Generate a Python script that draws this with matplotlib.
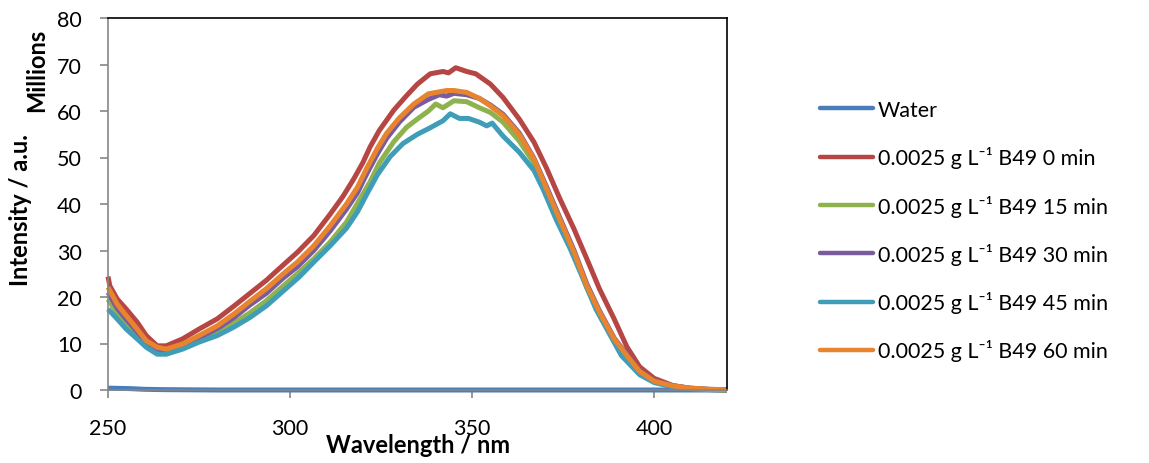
import matplotlib
matplotlib.use("Agg")
import matplotlib.pyplot as plt

plt.rcParams['font.family'] = ['Lato', 'DejaVu Sans']

# wavelength (nm) / intensity (millions)
water_x = [250, 253, 256, 260, 265, 270, 280, 300, 350, 400, 420]
water_y = [0.4, 0.35, 0.3, 0.15, 0.08, 0.05, 0.0, 0.0, 0.0, 0.0, 0.0]

red_x = [250, 250.5, 252.5, 255, 258, 260.5, 263.5, 266, 270.5, 275, 280, 284.5, 289, 293.5, 298, 302,
         306.5, 311, 314.5, 317.5, 320, 322, 324.5, 328.5, 332, 335, 338.5, 342, 343.5, 345.5, 348.5, 351,
         355, 358.5, 363, 367, 370.5, 374, 378, 381.5, 385, 389, 392.5, 396, 400, 405, 410, 415, 420]
red_y = [24.4, 22.4, 19.6, 17.4, 14.6, 11.7, 9.5, 9.5, 11, 13.1, 15.3, 18, 20.8, 23.6, 26.8, 29.6,
         33.2, 37.8, 41.6, 45.4, 48.9, 52.3, 55.8, 60.2, 63.3, 65.8, 68, 68.5, 68.2, 69.3, 68.5, 68,
         65.8, 62.9, 58.2, 53.3, 47.6, 41.3, 34.6, 28.2, 21.7, 15.3, 9.3, 5.0, 2.5, 1.0, 0.3, 0.1, 0.0]

green_x = [250, 252.5, 255, 258, 260.5, 263.5, 266, 270.5, 275, 280, 284.5, 289, 293.5, 298, 302, 306.5,
           311, 315.5, 319, 322, 324.5, 328.5, 332, 335, 338, 340, 342, 345, 348.5, 352, 355, 358.5, 363,
           367, 370.5, 374, 378, 381.5, 385, 389, 392.5, 396, 400, 405, 410, 415, 420]
green_y = [19.5, 16.5, 14, 11.8, 9.8, 8.2, 8.0, 9.1, 10.7, 12.3, 14.3, 16.6, 19.2, 22.3, 25.0, 28.2,
           31.8, 36.1, 40.8, 44.8, 48.8, 53.4, 56.5, 58.3, 60, 61.5, 60.7, 62.2, 62, 60.7, 59.7, 57.6, 53.5,
           48.8, 42.7, 36.3, 29.1, 22, 16.2, 10.6, 7.0, 3.7, 1.8, 0.8, 0.3, 0.1, 0.0]

purple_x = [250, 252.5, 255, 258, 260.5, 263.5, 266, 270.5, 275, 280, 284.5, 289, 293.5, 298, 302, 306.5,
            311, 315.5, 318.5, 321, 324, 326.5, 330, 334, 338, 341, 343, 345, 348.5, 352, 355, 358.5, 363,
            367, 370.5, 374, 378, 381.5, 385, 389, 392.5, 396, 400, 405, 410, 415, 420]
purple_y = [21, 17.6, 15.2, 12.5, 10.2, 8.8, 8.4, 9.5, 11.2, 13.2, 15.5, 18.3, 20.8, 24, 26.5, 30,
            34.2, 38.9, 42.4, 46.4, 50.8, 54.1, 57.6, 60.8, 62.5, 63.5, 63.2, 63.8, 63.5, 62.7, 61.3, 59.3, 55.2,
            49.8, 43.6, 37.2, 30, 22.8, 17, 11.2, 7.6, 4.1, 2.0, 0.9, 0.4, 0.15, 0.05]

teal_x = [250, 252.5, 255, 258, 260.5, 263.5, 266, 270.5, 275, 280, 284.5, 289, 293.5, 298, 302.5, 306.5,
          311, 315.5, 318.5, 321, 324, 327.5, 331, 335, 338.5, 342, 344, 346.5, 349, 352, 354, 355.5, 358.5,
          363, 367, 369.5, 373, 377, 380.5, 384, 388, 391, 396, 400, 405, 410, 415, 420]
teal_y = [17.4, 15.3, 13.1, 11, 9.2, 7.7, 7.7, 8.8, 10.3, 11.7, 13.5, 15.6, 18.1, 21.2, 24.3, 27.5,
          31, 34.8, 38.3, 42, 46.3, 50.2, 53, 55.0, 56.4, 57.9, 59.4, 58.4, 58.4, 57.6, 56.8, 57.4, 54.6,
          51.1, 47.2, 43.2, 36.8, 30.3, 23.9, 17.4, 11.7, 7.4, 3.3, 1.6, 0.7, 0.3, 0.1, 0.0]

orange_x = [250, 252.5, 255, 258, 260.5, 263.5, 266, 270.5, 275, 280, 284.5, 289, 293.5, 298, 302, 306.5,
            311, 315.5, 318.5, 321, 324, 326.5, 330, 334, 338, 343, 345, 348.5, 352, 355, 358.5, 363, 367,
            370.5, 374, 378, 381.5, 385, 389, 392.5, 396, 400, 405, 410, 415, 420]
orange_y = [22.1, 18.5, 16, 13.1, 10.6, 9.2, 8.8, 9.9, 11.7, 13.8, 16.3, 19.1, 21.8, 24.9, 27.5, 31,
            35.3, 40.0, 43.6, 47.6, 52.0, 55.2, 58.5, 61.5, 63.7, 64.4, 64.4, 64, 62.7, 61.1, 59, 54.9, 49.6,
            43.2, 36.8, 29.6, 22.4, 16.7, 11, 7.4, 4.0, 1.9, 0.9, 0.4, 0.15, 0.05]

labels = ['Water',
          '0.0025 g L\u207b\u00b9 B49 0 min',
          '0.0025 g L\u207b\u00b9 B49 15 min',
          '0.0025 g L\u207b\u00b9 B49 30 min',
          '0.0025 g L\u207b\u00b9 B49 45 min',
          '0.0025 g L\u207b\u00b9 B49 60 min']
colors = ['#4A7EBB', '#B54643', '#8DB24E', '#7A5C9E', '#3F9DB8', '#E8832E']
series = [(water_x, water_y), (red_x, red_y), (green_x, green_y),
          (purple_x, purple_y), (teal_x, teal_y), (orange_x, orange_y)]

fig = plt.figure(figsize=(11.49, 4.64), dpi=100)
ax = fig.add_axes([108 / 1149, 1 - 391 / 464, (727 - 108) / 1149, (391 - 19) / 464])

for (xs, ys), c, lab in zip(series, colors, labels):
    ax.plot(xs, ys, color=c, lw=3.6, label=lab, solid_joinstyle='round',
            solid_capstyle='butt', clip_on=False)

ax.set_xlim(250, 420)
ax.set_ylim(0, 80)
ax.set_xticks([250, 300, 350, 400])
ax.set_yticks(range(0, 81, 10))

for s in ['left', 'bottom']:
    ax.spines[s].set_color('#868686')
for s in ['top', 'right']:
    ax.spines[s].set_color('#000000')
for s in ax.spines.values():
    s.set_linewidth(1.2)
ax.tick_params(axis='y', direction='out', length=6, width=1.2, color='#868686',
               labelsize=15.5, labelcolor='#000000', pad=13)
ax.tick_params(axis='x', direction='out', length=6, width=1.2, color='#868686',
               labelsize=15.5, labelcolor='#000000', pad=14)

fig.text(418 / 1149, 1 - 446 / 464, 'Wavelength / nm', ha='center', va='center',
         fontsize=17, fontweight='bold')
fig.text(21 / 1149, 1 - 210 / 464, 'Intensity / a.u.', ha='center', va='center',
         rotation=90, fontsize=17, fontweight='bold')
fig.text(37 / 1149, 1 - 70 / 464, 'Millions', ha='center', va='center',
         rotation=90, fontsize=17, fontweight='bold')

leg = fig.legend(loc='upper left', bbox_to_anchor=(820 / 1149, 1 - 101 / 464),
                 frameon=False, fontsize=15.5, handlelength=2.45, handletextpad=0.23,
                 labelspacing=1.22, borderpad=0, borderaxespad=0)
for h in leg.get_lines():
    h.set_linewidth(3.2)
    h.set_solid_capstyle('round')

fig.savefig('out.png', dpi=100)
